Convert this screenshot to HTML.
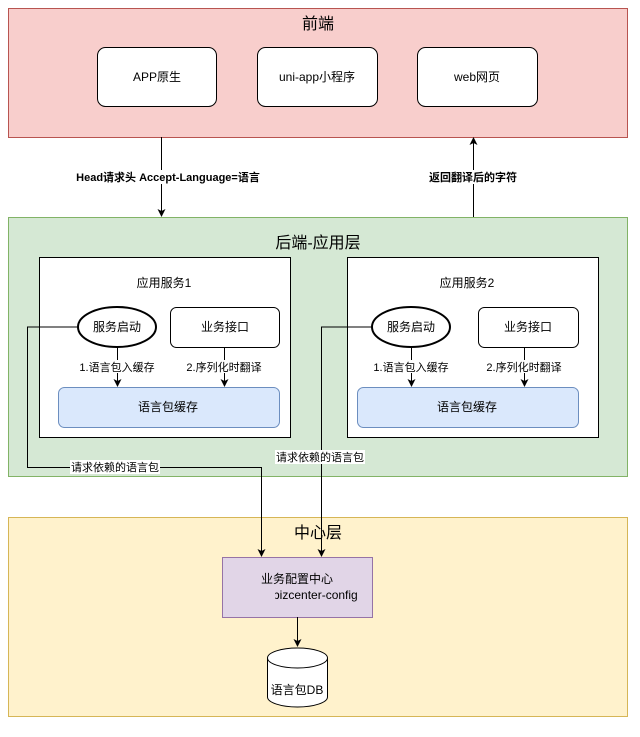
<!DOCTYPE html>
<html><head><meta charset="utf-8"><style>
body{margin:0;background:#fff}
text{font-family:"Liberation Sans","Noto Sans CJK SC",sans-serif;fill:#000}
</style></head><body>
<svg width="640" height="732" viewBox="0 0 640 732" xmlns="http://www.w3.org/2000/svg">
<defs>
<marker id="a" markerWidth="8" markerHeight="8" refX="7" refY="4" orient="auto" markerUnits="userSpaceOnUse"><path d="M0,0 L8,4 L0,8 L2,4 Z" fill="#000"/></marker>
<clipPath id="cp"><rect x="275" y="557" width="97" height="60"/></clipPath>
</defs>
<!-- frontend -->
<rect x="8.5" y="8.5" width="619" height="129" fill="#f8cecc" stroke="#b85450"/>
<text x="318" y="29" font-size="16" text-anchor="middle">前端</text>
<rect x="97.5" y="47.5" width="119" height="59" rx="8" fill="#fff" stroke="#000"/>
<text x="157" y="81" font-size="12" text-anchor="middle">APP原生</text>
<rect x="257.5" y="47.5" width="120" height="59" rx="8" fill="#fff" stroke="#000"/>
<text x="317" y="81" font-size="12" text-anchor="middle">uni-app小程序</text>
<rect x="417.5" y="47.5" width="120" height="59" rx="8" fill="#fff" stroke="#000"/>
<text x="477" y="81" font-size="12" text-anchor="middle">web网页</text>
<!-- arrows between -->
<line x1="161.5" y1="137" x2="161.5" y2="216" stroke="#000" marker-end="url(#a)"/>
<rect x="76" y="170" width="184" height="14" fill="#fff"/>
<text x="168" y="181" font-size="11" font-weight="bold" text-anchor="middle">Head请求头 Accept-Language=语言</text>
<line x1="473.5" y1="217" x2="473.5" y2="138" stroke="#000" marker-end="url(#a)"/>
<rect x="427" y="170" width="92" height="14" fill="#fff"/>
<text x="473" y="181" font-size="11" font-weight="bold" text-anchor="middle">返回翻译后的字符</text>
<!-- backend -->
<rect x="8.5" y="217.5" width="619" height="259" fill="#d5e8d4" stroke="#82b366"/>
<text x="318" y="248" font-size="16" text-anchor="middle">后端-应用层</text>
<!-- service 1 -->
<rect x="39.5" y="257.5" width="251" height="180" fill="#fff" stroke="#000"/>
<text x="164" y="287" font-size="12" text-anchor="middle">应用服务1</text>
<ellipse cx="117" cy="327" rx="39" ry="20" fill="#fff" stroke="#000" stroke-width="2"/>
<text x="117" y="331" font-size="12" text-anchor="middle">服务启动</text>
<rect x="170.5" y="307.5" width="109" height="40" rx="6" fill="#fff" stroke="#000"/>
<text x="225" y="331" font-size="12" text-anchor="middle">业务接口</text>
<line x1="117.5" y1="347" x2="117.5" y2="386" stroke="#000" marker-end="url(#a)"/>
<line x1="224.5" y1="347" x2="224.5" y2="386" stroke="#000" marker-end="url(#a)"/>
<rect x="78" y="360" width="80" height="13" fill="#fff"/>
<text x="117" y="371" font-size="11" text-anchor="middle">1.语言包入缓存</text>
<rect x="184" y="360" width="80" height="13" fill="#fff"/>
<text x="224" y="371" font-size="11" text-anchor="middle">2.序列化时翻译</text>
<rect x="58.5" y="387.5" width="221" height="40" rx="6" fill="#dae8fc" stroke="#6c8ebf"/>
<text x="168" y="411" font-size="12" text-anchor="middle">语言包缓存</text>
<!-- service 2 -->
<rect x="347.5" y="257.5" width="251" height="180" fill="#fff" stroke="#000"/>
<text x="467" y="287" font-size="12" text-anchor="middle">应用服务2</text>
<ellipse cx="411" cy="327" rx="39" ry="20" fill="#fff" stroke="#000" stroke-width="2"/>
<text x="411" y="331" font-size="12" text-anchor="middle">服务启动</text>
<rect x="478.5" y="307.5" width="100" height="40" rx="6" fill="#fff" stroke="#000"/>
<text x="528" y="331" font-size="12" text-anchor="middle">业务接口</text>
<line x1="411.5" y1="347" x2="411.5" y2="386" stroke="#000" marker-end="url(#a)"/>
<line x1="524.5" y1="347" x2="524.5" y2="386" stroke="#000" marker-end="url(#a)"/>
<rect x="372" y="360" width="80" height="13" fill="#fff"/>
<text x="411" y="371" font-size="11" text-anchor="middle">1.语言包入缓存</text>
<rect x="484" y="360" width="80" height="13" fill="#fff"/>
<text x="524" y="371" font-size="11" text-anchor="middle">2.序列化时翻译</text>
<rect x="357.5" y="387.5" width="221" height="40" rx="6" fill="#dae8fc" stroke="#6c8ebf"/>
<text x="467" y="411" font-size="12" text-anchor="middle">语言包缓存</text>
<!-- center -->
<rect x="8.5" y="517.5" width="619" height="199" fill="#fff2cc" stroke="#d6b656"/>
<text x="318" y="538" font-size="16" text-anchor="middle">中心层</text>
<!-- connectors -->
<polyline points="78,327 27.5,327 27.5,467.5 261.5,467.5 261.5,556" fill="none" stroke="#000" marker-end="url(#a)"/>
<rect x="70" y="460" width="90" height="14" fill="#fff"/>
<text x="115" y="471" font-size="11" text-anchor="middle">请求依赖的语言包</text>
<polyline points="372,327 321.5,327 321.5,556" fill="none" stroke="#000" marker-end="url(#a)"/>
<rect x="275" y="450" width="90" height="14" fill="#fff"/>
<text x="320" y="461" font-size="11" text-anchor="middle">请求依赖的语言包</text>
<rect x="222.5" y="557.5" width="150" height="60" fill="#e1d5e7" stroke="#9673a6"/>
<text x="297" y="583" font-size="12" text-anchor="middle">业务配置中心</text>
<text x="273" y="599" font-size="12" clip-path="url(#cp)">bizcenter-config</text>
<line x1="297.5" y1="617" x2="297.5" y2="646" stroke="#000" marker-end="url(#a)"/>
<path d="M267.5,658 A30,10 0 0 1 327.5,658 L327.5,697 A30,10 0 0 1 267.5,697 Z" fill="#fff" stroke="#000"/>
<path d="M267.5,658 A30,10 0 0 0 327.5,658" fill="none" stroke="#000"/>
<text x="297" y="694" font-size="12" text-anchor="middle">语言包DB</text>
</svg>
</body></html>
